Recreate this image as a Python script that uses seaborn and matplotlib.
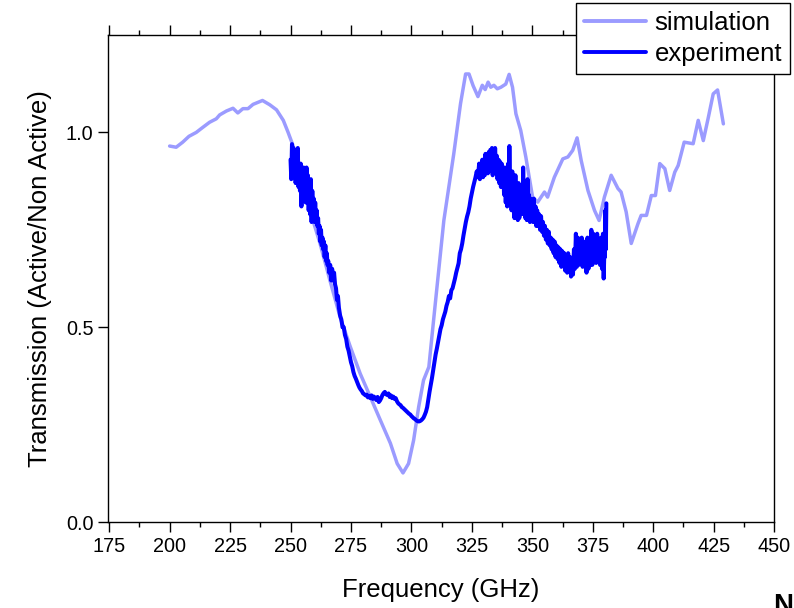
import numpy as np
import pandas as pd
import matplotlib
matplotlib.use("Agg")
import matplotlib.pyplot as plt
from matplotlib.ticker import MultipleLocator
import seaborn as sns

# Simulated transmission spectrum
sim_freq = [200.0, 202.7, 205.4, 208.0, 211.0, 213.5, 216.5, 219.3, 220.7, 223.5,
            226.2, 228.2, 230.3, 232.4, 234.5, 238.4, 241.4, 244.2, 247.0, 249.0,
            251.1, 254.5, 258.0, 262.2, 266.3, 270.5, 274.7, 278.8, 283.0, 287.1,
            291.3, 294.1, 296.5, 298.8, 300.9, 303.0, 305.0, 307.2, 308.6, 310.0,
            313.4, 317.5, 320.3, 322.4, 323.8, 325.5, 327.5, 329.3, 330.5, 331.7,
            332.8, 334.1, 335.5, 337.0, 339.0, 340.4, 341.8, 343.2, 345.2, 347.3,
            348.7, 350.1, 352.2, 355.0, 356.3, 359.1, 362.6, 364.7, 366.7, 368.5,
            370.2, 373.0, 375.7, 377.6, 379.8, 382.6, 385.4, 386.7, 388.8, 390.9,
            393.7, 395.0, 397.2, 399.2, 400.9, 402.7, 404.8, 406.8, 408.9, 410.3,
            412.8, 416.5, 418.6, 420.7, 422.8, 424.8, 426.6, 429.0]
sim_val = [0.965, 0.962, 0.975, 0.990, 1.000, 1.012, 1.026, 1.035, 1.045, 1.055,
           1.062, 1.050, 1.061, 1.061, 1.072, 1.082, 1.071, 1.058, 1.031, 1.000,
           0.965, 0.885, 0.800, 0.715, 0.620, 0.526, 0.450, 0.381, 0.321, 0.262,
           0.202, 0.150, 0.126, 0.150, 0.210, 0.296, 0.364, 0.398, 0.484, 0.569,
           0.774, 0.945, 1.074, 1.150, 1.150, 1.120, 1.092, 1.121, 1.110, 1.129,
           1.116, 1.121, 1.112, 1.116, 1.124, 1.149, 1.116, 1.048, 1.005, 0.937,
           0.885, 0.834, 0.821, 0.847, 0.834, 0.885, 0.932, 0.937, 0.954, 0.986,
           0.928, 0.851, 0.800, 0.774, 0.834, 0.890, 0.856, 0.847, 0.796, 0.715,
           0.766, 0.787, 0.787, 0.838, 0.838, 0.920, 0.907, 0.851, 0.898, 0.915,
           0.975, 0.971, 1.031, 0.979, 1.039, 1.099, 1.109, 1.022]

# Measured transmission spectrum
exp_freq = [250.0, 250.3, 250.6, 250.9, 251.2, 251.5, 251.8, 252.1, 252.4, 252.7,
            253.0, 253.3, 253.6, 253.9, 254.2, 254.5, 254.8, 255.1, 255.4, 255.7,
            256.0, 256.3, 256.6, 256.9, 257.2, 257.5, 257.8, 258.1, 258.4, 258.7,
            259.0, 259.3, 259.6, 259.9, 260.2, 260.5, 260.8, 261.1, 261.4, 261.7,
            262.0, 262.3, 262.6, 262.9, 263.2, 263.5, 263.8, 264.1, 264.4, 264.7,
            265.0, 265.3, 265.6, 266.0, 266.4, 266.8, 267.2, 267.6, 268.0, 268.4,
            268.8, 269.2, 269.6, 270.0, 270.5, 271.0, 271.5, 272.0, 272.5, 273.0,
            273.5, 274.0, 274.5, 275.0, 275.5, 276.0, 276.5, 277.0, 277.5, 278.0,
            278.5, 279.0, 279.5, 280.0, 280.5, 281.0, 281.5, 282.0, 282.5, 283.0,
            283.5, 284.0, 284.5, 285.0, 285.5, 286.0, 286.5, 287.0, 287.5, 288.0,
            288.5, 289.0, 289.5, 290.0, 290.5, 291.0, 291.5, 292.0, 292.5, 293.0,
            293.5, 294.0, 294.5, 295.0, 295.5, 296.0, 296.5, 297.0, 297.5, 298.0,
            298.5, 299.0, 299.5, 300.0, 300.5, 301.0, 301.5, 302.0, 302.5, 303.0,
            303.5, 304.0, 304.5, 305.0, 305.5, 306.0, 306.5, 307.0, 307.5, 308.0,
            308.5, 309.0, 309.5, 310.0, 310.5, 311.0, 311.5, 312.0, 312.5, 313.0,
            313.5, 314.0, 314.5, 315.0, 315.5, 316.0, 316.5, 317.0, 317.5, 318.0,
            318.5, 319.0, 319.5, 320.0, 320.5, 321.0, 321.5, 322.0, 322.5, 323.0,
            323.5, 324.0, 324.5, 325.0, 325.5, 326.0, 326.5, 327.0, 327.5, 328.0,
            328.3, 328.6, 329.0, 329.3, 329.6, 330.0, 330.3, 330.6, 331.0, 331.3,
            331.6, 332.0, 332.3, 332.6, 333.0, 333.3, 333.6, 334.0, 334.3, 334.6,
            335.0, 335.3, 335.6, 336.0, 336.3, 336.6, 337.0, 337.3, 337.6, 338.0,
            338.3, 338.6, 339.0, 339.3, 339.6, 340.0, 340.3, 340.5, 340.8, 341.1,
            341.4, 341.7, 342.0, 342.3, 342.6, 343.0, 343.3, 343.6, 344.0, 344.3,
            344.6, 345.0, 345.3, 345.6, 346.0, 346.2, 346.5, 346.8, 347.1, 347.4,
            347.7, 348.0, 348.3, 348.6, 349.0, 349.3, 349.6, 350.0, 350.3, 350.6,
            351.0, 351.3, 351.6, 352.0, 352.4, 352.8, 353.2, 353.6, 354.0, 354.4,
            354.8, 355.2, 355.6, 356.0, 356.4, 356.8, 357.2, 357.6, 358.0, 358.4,
            358.8, 359.2, 359.6, 360.0, 360.4, 360.8, 361.2, 361.6, 362.0, 362.4,
            362.8, 363.2, 363.6, 364.0, 364.4, 364.8, 365.2, 365.6, 366.0, 366.4,
            366.8, 367.2, 367.6, 368.0, 368.4, 368.8, 369.2, 369.6, 370.0, 370.4,
            370.8, 371.2, 371.6, 372.0, 372.4, 372.8, 373.2, 373.6, 374.0, 374.4,
            374.8, 375.2, 375.6, 376.0, 376.4, 376.8, 377.2, 377.6, 378.0, 378.4,
            378.8, 379.2, 379.5, 379.8, 380.0, 380.2, 380.4, 380.6]
exp_val = [0.930, 0.880, 0.970, 0.900, 0.960, 0.890, 0.940, 0.870, 0.930, 0.880,
           0.960, 0.860, 0.900, 0.850, 0.920, 0.810, 0.880, 0.830, 0.910, 0.840,
           0.900, 0.820, 0.910, 0.840, 0.890, 0.800, 0.870, 0.790, 0.880, 0.770,
           0.850, 0.790, 0.830, 0.770, 0.820, 0.770, 0.800, 0.760, 0.780, 0.740,
           0.760, 0.720, 0.750, 0.710, 0.730, 0.700, 0.720, 0.680, 0.710, 0.670,
           0.690, 0.660, 0.670, 0.640, 0.660, 0.620, 0.650, 0.620, 0.640, 0.610,
           0.600, 0.570, 0.580, 0.550, 0.530, 0.520, 0.500, 0.500, 0.480, 0.470,
           0.450, 0.440, 0.425, 0.410, 0.400, 0.385, 0.375, 0.368, 0.360, 0.352,
           0.345, 0.340, 0.336, 0.330, 0.328, 0.325, 0.327, 0.320, 0.324, 0.318,
           0.325, 0.316, 0.322, 0.318, 0.313, 0.321, 0.308, 0.312, 0.318, 0.326,
           0.331, 0.334, 0.328, 0.326, 0.330, 0.321, 0.325, 0.318, 0.322, 0.316,
           0.318, 0.310, 0.305, 0.302, 0.300, 0.295, 0.293, 0.290, 0.287, 0.284,
           0.281, 0.278, 0.276, 0.272, 0.269, 0.266, 0.264, 0.261, 0.259, 0.258,
           0.259, 0.261, 0.264, 0.268, 0.275, 0.283, 0.295, 0.315, 0.335, 0.352,
           0.370, 0.390, 0.410, 0.430, 0.445, 0.462, 0.480, 0.495, 0.505, 0.520,
           0.530, 0.540, 0.555, 0.565, 0.580, 0.574, 0.595, 0.600, 0.612, 0.625,
           0.640, 0.652, 0.664, 0.690, 0.700, 0.715, 0.735, 0.752, 0.770, 0.784,
           0.795, 0.810, 0.830, 0.845, 0.860, 0.872, 0.885, 0.900, 0.885, 0.920,
           0.880, 0.915, 0.890, 0.930, 0.885, 0.920, 0.890, 0.945, 0.900, 0.940,
           0.895, 0.950, 0.900, 0.955, 0.910, 0.960, 0.890, 0.950, 0.900, 0.960,
           0.895, 0.940, 0.880, 0.930, 0.870, 0.925, 0.860, 0.920, 0.860, 0.900,
           0.840, 0.910, 0.820, 0.880, 0.810, 0.920, 0.830, 0.965, 0.820, 0.880,
           0.800, 0.900, 0.800, 0.870, 0.780, 0.890, 0.790, 0.860, 0.775, 0.870,
           0.780, 0.850, 0.790, 0.860, 0.800, 0.910, 0.790, 0.870, 0.780, 0.850,
           0.775, 0.880, 0.790, 0.840, 0.770, 0.830, 0.780, 0.820, 0.770, 0.830,
           0.770, 0.810, 0.760, 0.800, 0.760, 0.790, 0.750, 0.785, 0.745, 0.770,
           0.735, 0.760, 0.725, 0.750, 0.715, 0.745, 0.710, 0.730, 0.700, 0.725,
           0.690, 0.720, 0.680, 0.710, 0.675, 0.705, 0.665, 0.700, 0.655, 0.695,
           0.660, 0.690, 0.645, 0.685, 0.640, 0.690, 0.650, 0.680, 0.630, 0.675,
           0.635, 0.700, 0.650, 0.740, 0.655, 0.730, 0.660, 0.725, 0.670, 0.730,
           0.655, 0.720, 0.660, 0.700, 0.640, 0.730, 0.650, 0.710, 0.660, 0.750,
           0.660, 0.740, 0.670, 0.720, 0.665, 0.740, 0.670, 0.720, 0.660, 0.730,
           0.650, 0.740, 0.625, 0.700, 0.680, 0.800, 0.700, 0.818]

x_ticks = [175, 200, 225, 250, 275, 300, 325, 350, 375, 400, 425, 450]
y_ticks = [0.0, 0.5, 1.0]

sim_df = pd.DataFrame({"freq": sim_freq, "T": sim_val})
exp_df = pd.DataFrame({"freq": exp_freq, "T": exp_val})

sns.set_style("ticks")
plt.rcParams["font.family"] = ["Liberation Sans", "DejaVu Sans"]
plt.rcParams["text.color"] = "black"
plt.rcParams["axes.labelcolor"] = "black"
plt.rcParams["xtick.color"] = "black"
plt.rcParams["ytick.color"] = "black"

fig = plt.figure(figsize=(7.94, 6.08), dpi=100)
ax = fig.add_axes([0.136, 0.1414, 0.839, 0.801])

sns.lineplot(data=sim_df, x="freq", y="T", ax=ax, color="#9b9bff", lw=2.5,
             sort=False, estimator=None, label="simulation")
sns.lineplot(data=exp_df, x="freq", y="T", ax=ax, color="#0000ff", lw=2.9,
             sort=False, estimator=None, label="experiment")

ax.set_xlim(174.5, 450)
ax.set_ylim(0.0, 1.25)
ax.set_xticks(x_ticks)
ax.set_xticklabels([str(t) for t in x_ticks])
ax.set_yticks(y_ticks)
ax.set_yticklabels([f"{t:.1f}" for t in y_ticks])
ax.xaxis.set_minor_locator(MultipleLocator(12.5))

for s in ax.spines.values():
    s.set_visible(True)
    s.set_linewidth(1.0)
    s.set_color("black")

ax.tick_params(axis="both", which="major", direction="out", length=7, width=1.0,
               labelsize=14.3, colors="black", labelcolor="black")
ax.tick_params(axis="x", which="minor", direction="out", length=3.5, width=1.0,
               colors="black")
ax.tick_params(axis="x", which="both", top=True, labeltop=False)
ax.tick_params(axis="y", which="both", right=False, left=True)

ax.set_xlabel("Frequency (GHz)", fontsize=18.5, labelpad=16, color="black")
ax.set_ylabel("Transmission (Active/Non Active)", fontsize=18.5, labelpad=10,
              color="black")

leg = ax.legend(loc="upper right", bbox_to_anchor=(790 / 794, 1 - 3 / 608),
                bbox_transform=fig.transFigure, fontsize=18.5, frameon=True,
                fancybox=False, framealpha=1, edgecolor="black",
                handlelength=2.4, handletextpad=0.35, labelspacing=0.3,
                borderpad=0.3, borderaxespad=0)
leg.get_frame().set_linewidth(1.0)
for line in leg.get_lines():
    line.set_linewidth(2.8)
for t in leg.get_texts():
    t.set_color("black")

fig.text(0.999, -0.018, "N", fontsize=20, fontweight="bold", ha="right",
         va="bottom", color="black")

fig.savefig("out.png", dpi=100)
